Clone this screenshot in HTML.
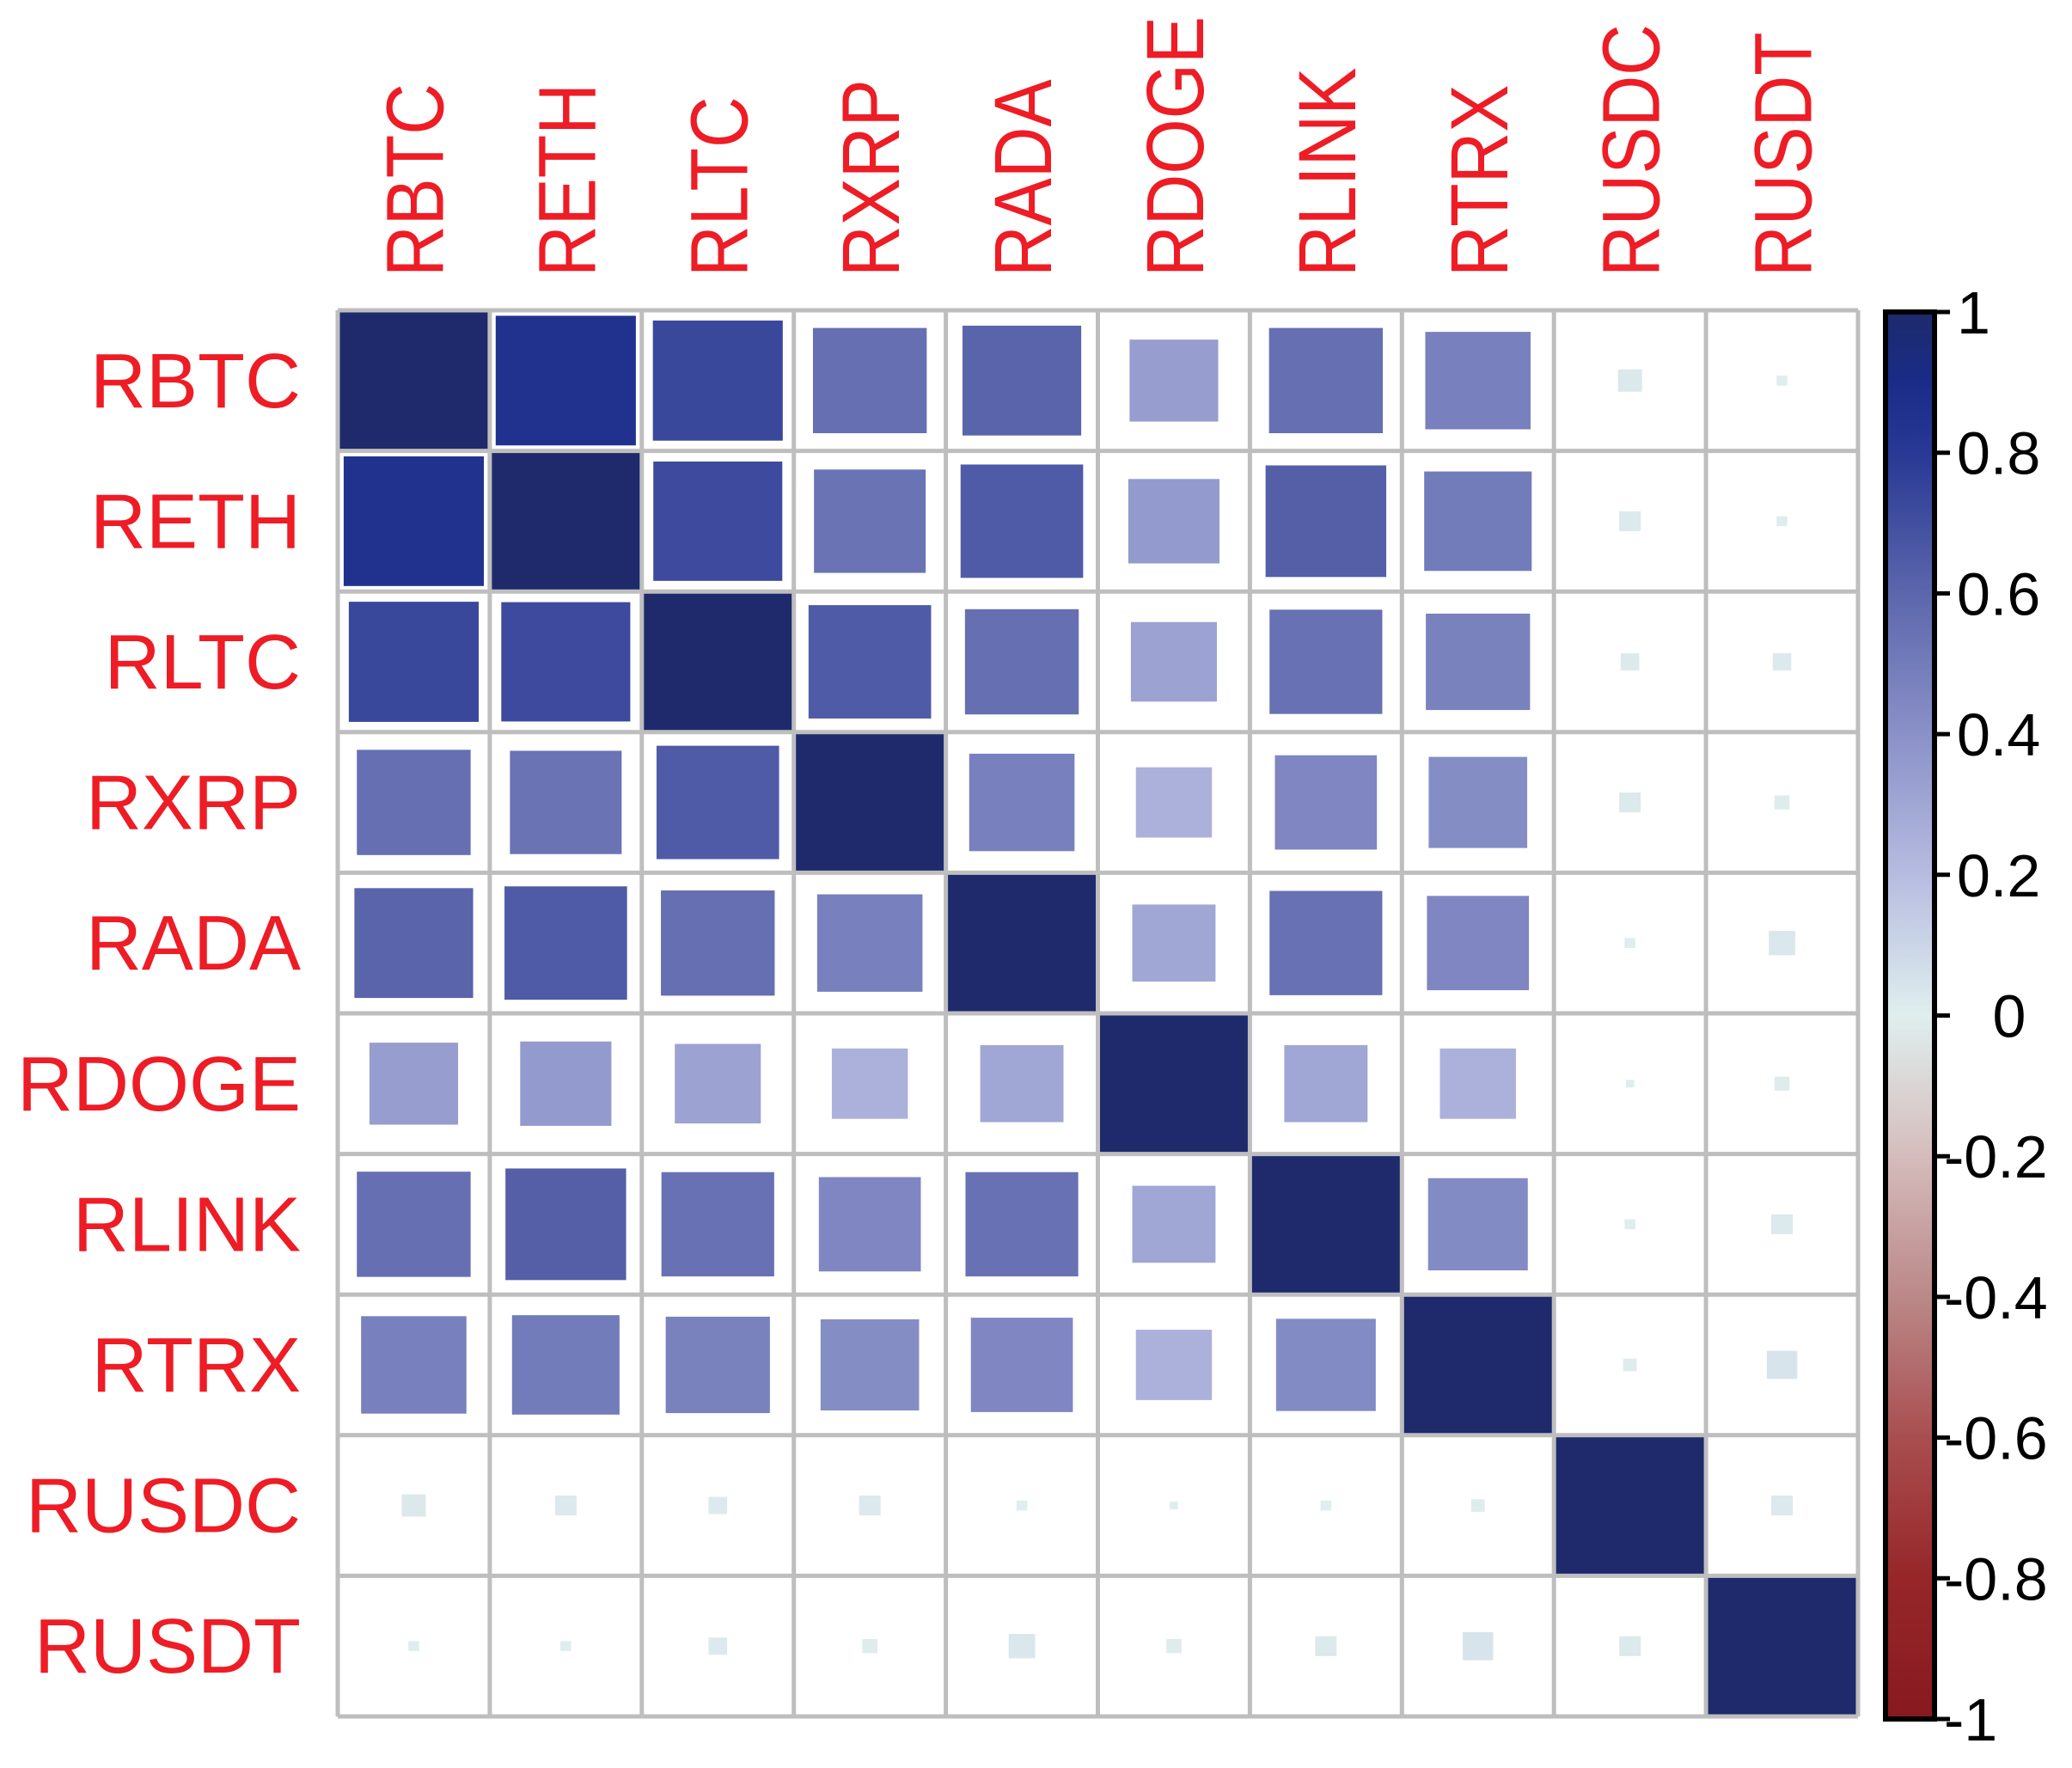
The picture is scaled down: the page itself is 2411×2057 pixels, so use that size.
<!DOCTYPE html>
<html><head><meta charset="utf-8"><style>
html,body{margin:0;padding:0;background:#fff;}
svg{display:block;}
text{font-family:"Liberation Sans",Arial,sans-serif;}
</style></head><body>
<svg id="chart" width="2411" height="2057" viewBox="0 0 2411 2057" xmlns="http://www.w3.org/2000/svg">
<g id="cells"></g>
<g id="grid"></g>
<g id="rowlabels"></g>
<g id="collabels"></g>
<g id="cbar"></g>
</svg>
<script>
const labels = ["RBTC","RETH","RLTC","RXRP","RADA","RDOGE","RLINK","RTRX","RUSDC","RUSDT"];
const rowRBTC  = [1,0.85,0.73,0.56,0.61,0.34,0.56,0.48,0.025,0.005];
const rowRETH  = [0.85,1,0.72,0.54,0.65,0.36,0.63,0.5,0.02,0.005];
const rowRLTC  = [0.73,0.72,1,0.65,0.56,0.32,0.55,0.47,0.015,0.015];
const rowRXRP  = [0.56,0.54,0.65,1,0.48,0.25,0.45,0.42,0.02,0.01];
const rowRADA  = [0.61,0.65,0.56,0.48,1,0.3,0.55,0.45,0.005,0.03];
const rowRDOGE = [0.34,0.36,0.32,0.25,0.3,1,0.3,0.25,0.003,0.01];
const rowRLINK = [0.56,0.63,0.55,0.45,0.55,0.3,1,0.43,0.005,0.02];
const rowRTRX  = [0.48,0.5,0.47,0.42,0.45,0.25,0.43,1,0.008,0.04];
const rowRUSDC = [0.025,0.02,0.015,0.02,0.005,0.003,0.005,0.008,1,0.02];
const rowRUSDT = [0.005,0.005,0.015,0.01,0.03,0.01,0.02,0.04,0.02,1];
const legendTicks = [1,0.8,0.6,0.4,0.2,0,-0.2,-0.4,-0.6,-0.8,-1];
const legendTickLabels = ["1","0.8","0.6","0.4","0.2","0","-0.2","-0.4","-0.6","-0.8","-1"];

const rows = [rowRBTC,rowRETH,rowRLTC,rowRXRP,rowRADA,rowRDOGE,rowRLINK,rowRTRX,rowRUSDC,rowRUSDT];
const NS = "http://www.w3.org/2000/svg";
const L=393, R=2162, T=361, B=1997, n=labels.length;
const cw=(R-L)/n, ch=(B-T)/n;
const xPos=i=>L+i*cw, yPos=i=>T+i*ch;
const stops=[[-1,[135,25,31]],[-0.8,[150,38,40]],[-0.6,[169,78,80]],[-0.4,[187,136,136]],[-0.2,[213,188,188]],[0,[224,238,238]],[0.2,[182,188,224]],[0.4,[138,145,200]],[0.6,[92,102,172]],[0.8,[40,56,148]],[0.9,[26,43,136]],[1,[30,42,108]]];
function color(v){
  for(let i=0;i<stops.length-1;i++){const a=stops[i],b=stops[i+1];
    if(v>=a[0]&&v<=b[0]){const t=(v-a[0])/(b[0]-a[0]);const c=a[1].map((x,k)=>Math.round(x+(b[1][k]-x)*t));return `rgb(${c})`;}}
  return "rgb(30,42,108)";
}
function mk(tag,attrs,parent){const e=document.createElementNS(NS,tag);for(const k in attrs)e.setAttribute(k,attrs[k]);parent.appendChild(e);return e;}
const cells=document.getElementById('cells');
rows.forEach((row,i)=>row.forEach((v,j)=>{
  const s=Math.sqrt(Math.abs(v)); const w=cw*s, h=ch*s;
  const cx=xPos(j)+cw/2, cy=yPos(i)+ch/2;
  const r=mk('rect',{x:cx-w/2,y:cy-h/2,width:w,height:h,fill:color(v)},cells);
  
  
}));
const grid=document.getElementById('grid');
for(let i=0;i<=n;i++){
  const a=mk('line',{x1:xPos(i),x2:xPos(i),y1:T,y2:B,stroke:'#bebebe','stroke-width':5},grid);
  
  
  const b=mk('line',{x1:L,x2:R,y1:yPos(i),y2:yPos(i),stroke:'#bebebe','stroke-width':5},grid);
  
  
}
const rl=document.getElementById('rowlabels'), cl=document.getElementById('collabels');
labels.forEach((lab,i)=>{
  const t=mk('text',{x:350,y:yPos(i)+ch/2+31,'text-anchor':'end','font-size':90,fill:'#ee1c25'},rl);
  t.textContent=lab;
  
  
  const cx=xPos(i)+cw/2+34;
  const c=mk('text',{x:0,y:0,'text-anchor':'start','font-size':95,fill:'#ee1c25',transform:`translate(${cx},322) rotate(-90) scale(0.87,1)`},cl);
  c.textContent=lab;
  
  
});
const cb=document.getElementById('cbar');
const bT=363,bB=2000,bL=2194,bR=2251;
const ys=v=>bT+(1-v)/2*(bB-bT);
const defs=mk('defs',{},cb);
const g=mk('linearGradient',{id:'grad',x1:0,y1:0,x2:0,y2:1},defs);
for(let k=0;k<=40;k++){const v=1-k/20;mk('stop',{offset:k/40,'stop-color':color(v)},g);}
const bar=mk('rect',{x:bL,y:bT,width:bR-bL,height:bB-bT,fill:'url(#grad)',stroke:'#000','stroke-width':6},cb);


legendTicks.forEach((v,k)=>{
  const y=ys(v);
  const tk=mk('line',{x1:bR,x2:bR+18,y1:y,y2:y,stroke:'#000','stroke-width':5},cb);
  
  
  const lx = v>0 ? 2277 : 2262;
  const t=mk('text',{x:v===0?2338:lx,y:y+25,'font-size':70,fill:'#000','text-anchor':v===0?'middle':'start'},cb);
  t.textContent=legendTickLabels[k];
  
  
});
</script>
</body></html>
